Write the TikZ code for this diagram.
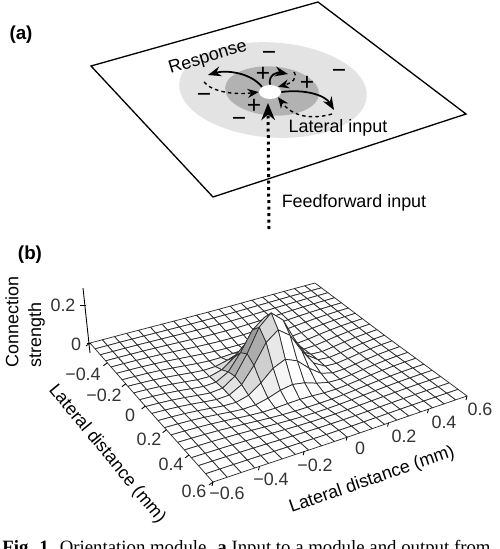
\documentclass[tikz,border=0pt]{standalone}
\usepackage{fontspec}
\setmainfont{Liberation Sans}
\newfontfamily\capfont{Liberation Serif}
\usetikzlibrary{arrows.meta,shapes.geometric}

\newcommand{\zat}[2]{\csname zv-#1-#2\endcsname}

\begin{document}
\begin{tikzpicture}[
      x=0.02cm, y=-0.02cm,
      font=\fontsize{10.2}{13}\selectfont,
      panel/.style={font=\fontsize{10.7}{13}\selectfont\bfseries},
      sign/.style={font=\fontsize{14}{14}\selectfont, inner sep=0pt},
      zone/.style={ellipse, inner sep=0pt, rotate=-4},
      solidarc/.style={-{Stealth[length=2.6mm,width=2mm]}, line width=1pt},
      dasharc/.style={-{Stealth[length=2.2mm,width=1.8mm]}, line width=0.8pt,
                      dash pattern=on 2pt off 1.8pt},
      ffarrow/.style={-{Stealth[length=3.4mm,width=2.7mm]}, line width=1.7pt,
                      dash pattern=on 1.7pt off 2pt},
      mesh/.style={draw=black!82, line width=0.42pt, line join=round},
      tick/.style={black, line width=0.5pt},
      ticklbl/.style={inner sep=0pt, text=black!80}
    ]
    \useasboundingbox (0,0) rectangle (500,549);
    \clip (0,0) rectangle (500,549);

    % panel (a)
    \node[panel] (pa) at (21,35) {(a)};
    \draw[line width=0.75pt, line join=miter] (91,66) -- (318,2) -- (466,114) -- (213,197) -- cycle;

    % zones around the module
    \node[zone, fill=black!11, minimum width=3.76cm, minimum height=1.9cm] (outer) at (273,90) {};
    \node[zone, fill=black!30, minimum width=1.88cm, minimum height=0.98cm] (inner) at (272,91) {};
    \node[ellipse, fill=white, inner sep=0pt, minimum width=0.44cm, minimum height=0.28cm] (cell) at (270,92) {};

    \foreach \n/\x/\y in {pa/263/74, pb/307/83, pc/254/106} {
      \node[sign] (\n) at (\x,\y) {+};
    }
    \foreach \n/\x/\y in {ma/269/56, mb/339/74, mc/204/98, md/239/122} {
      \node[sign] (\n) at (\x,\y) {−};
    }

    % free ends of the arcs
    \coordinate (respl) at (208,75);
    \coordinate (latl) at (204,82);
    \coordinate (respr) at (334,110);
    \coordinate (latr) at (332,114);
    \coordinate (respt) at (288,74);
    \coordinate (latt) at (294,72);
    \coordinate (ffin) at (269,229);
    \coordinate (fftip) at (268,103);

    \draw[solidarc] (cell.north west) .. controls (250,72) and (225,70) .. (respl);
    \draw[dasharc] (latl) .. controls (212,92) and (235,95) .. (cell.west);
    \draw[solidarc] (cell.east) .. controls (305,89) and (325,95) .. (respr);
    \draw[dasharc] (latr) .. controls (318,118) and (295,120) .. (cell.south east);
    \draw[solidarc] (cell.north) .. controls (268,74) and (278,72) .. (respt);
    \draw[dasharc] (latt) .. controls (298,78) and (292,83) .. (cell.north east);
    \draw[ffarrow] (ffin) -- (fftip);

    \node[rotate=17] (resp) at (208,58) {Response};
    \node (latin) at (338,128) {Lateral input};
    \node (ffw) at (354,203) {Feedforward input};

    % panel (b)
    \node[panel] (pb) at (30,255) {(b)};
    \node[rotate=90, anchor=north west, align=left, inner sep=0pt] (ylab) at (5,368) {Connection\\strength};

    % surface points, projected from the unit square
    \foreach \i in {0,...,20} {
      \foreach \j in {0,...,20} {
        \pgfmathsetmacro\ss{\i/20}
        \pgfmathsetmacro\tt{\j/20}
        \pgfmathsetmacro\ww{0.119*\ss+0.2093*\tt+1}
        \pgfmathsetmacro\rr{1.44*((\ss-0.5)^2+(\tt-0.5)^2)}
        \pgfmathsetmacro\zz{0.37*exp(-\rr/0.021)-0.085*exp(-\rr/0.11)}
        \expandafter\xdef\csname zv-\i-\j\endcsname{\zz}
        \coordinate (p-\i-\j) at ({(309.6*\ss-104.2*\tt+213)/\ww},
                                  {(-38.9*\ss-67.2*\tt+482)/\ww-195*\zz});
      }
    }

    % back to front
    \foreach \i in {19,...,0} {
      \foreach \j in {19,...,0} {
        \pgfmathtruncatemacro\ii{\i+1}
        \pgfmathtruncatemacro\jj{\j+1}
        \pgfmathsetmacro\shd{max(0,min(42,330*(\zat{\ii}{\j}-\zat{\i}{\j})))}
        \filldraw[mesh, fill=black!\shd] (p-\i-\j) -- (p-\ii-\j) -- (p-\ii-\jj) -- (p-\i-\jj) -- cycle;
      }
    }

    % axes
    \coordinate (zbase) at (90,353);
    \coordinate (ztop) at (83,288);
    \draw[tick] (zbase) -- (ztop);
    \draw[tick] (80,305) -- (86,305);
    \draw[tick] (87,343) -- (91,343);
    \foreach \k in {0,...,6} {
      \pgfmathsetmacro\ff{\k/6}
      \pgfmathsetmacro\wl{0.2093*\ff+1}
      \pgfmathsetmacro\wf{0.119*\ff+1}
      \coordinate (tl\k) at ({(213-104.2*\ff)/\wl},{(482-67.2*\ff)/\wl});
      \coordinate (tf\k) at ({(213+309.6*\ff)/\wf},{(482-38.9*\ff)/\wf});
      \draw[tick] (tl\k) -- ++(-4,3);
      \draw[tick] (tf\k) -- ++(-1,4);
    }

    \foreach \n/\x/\y/\t in {za/63/305/0.2, zb/76/344/0,
        la/83/374/−0.4, lb/104/395/−0.2, lc/130/415/0, ld/149/439/0.2, le/171/464/0.4, lf/194/491/0.6,
        ra/227/493/−0.6, rb/271/479/−0.4, rc/315/465/−0.2, rd/360/448/0, re/404/436/0.2, rf/444/422/0.4, rg/480/409/0.6} {
      \node[ticklbl] (\n) at (\x,\y) {\t};
    }
    \node[rotate=-50.5] (xlab) at (107,454) {Lateral distance (mm)};
    \node[rotate=19] (vlab) at (372,480) {Lateral distance (mm)};

    % caption, cut by the lower edge
    \node[anchor=base west, inner sep=0pt, font=\fontsize{10.7}{12}\selectfont\capfont] (cap) at (2,553.5)
      {\textbf{Fig. 1.} Orientation module. \textbf{a} Input to a module and output from};
  \end{tikzpicture}
\end{document}
